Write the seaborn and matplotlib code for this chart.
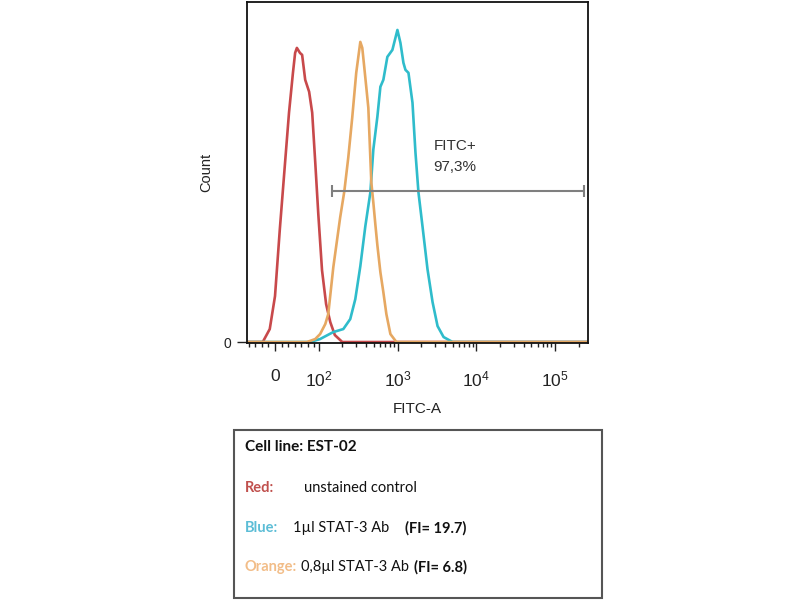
import seaborn as sns
import pandas as pd
import matplotlib.pyplot as plt
from matplotlib.patches import Rectangle

sns.set_style("white")
plt.rcParams['font.family'] = ['Liberation Sans', 'DejaVu Sans']
plt.rcParams['mathtext.default'] = 'regular'

# histogram outlines (FITC-A value, count)
red_x = [-64, -28, -12, 0, 11, 23, 32, 41, 46, 50, 57, 62, 69, 78, 85, 92, 99,
         110, 124, 140, 160, 199, 262143]
red_y = [0, 0, 13, 46, 113, 180, 230, 270, 290, 295, 290, 288, 263, 251, 230, 180, 128,
         72, 38, 20, 7, 0, 0]

orange_x = [-64, 73, 92, 104, 121, 132, 153, 187, 211, 237, 266, 299, 337,
            357, 379, 402, 426, 465, 493, 523, 555, 606, 661, 722, 812, 968, 262143]
orange_y = [0, 0, 3, 8, 18, 28, 75, 125, 151, 185, 225, 270, 301,
            295, 275, 255, 235, 160, 140, 118, 97, 70, 50, 28, 8, 0, 0]

blue_x = [-64, 80, 104, 153, 205, 251, 291, 337, 390, 452, 493, 555, 606, 661,
          743, 861, 997, 1089, 1189, 1261, 1377, 1549, 1690, 1845, 2076, 2403,
          2786, 3223, 3845, 5003, 262143]
blue_y = [0, 0, 3, 10, 13, 23, 43, 76, 116, 150, 193, 226, 256, 263,
          286, 293, 313, 300, 280, 273, 270, 240, 190, 150, 116, 73,
          40, 16, 5, 0, 0]

major_ticks = [0, 100, 1000, 10000, 100000]
major_labels = ['0', '$10^2$', '$10^3$', '$10^4$', '$10^5$']
minor_ticks = [-60, -45, -30, -15, 15, 30, 45, 60, 75, 90,
               200, 300, 400, 500, 600, 700, 800, 900,
               2000, 3000, 4000, 5000, 6000, 7000, 8000, 9000,
               20000, 30000, 40000, 50000, 60000, 70000, 80000, 90000, 200000]

gate_lo, gate_hi, gate_y = 148, 233000, 151
gate_text = ['FITC+', '97,3%']

legend_title = 'Cell line: EST-02'
legend_rows = [('Red:', '#c0504d', 'unstained control', ''),
               ('Blue:', '#5cbdd6', '1µl STAT-3 Ab', '(FI= 19.7)'),
               ('Orange:', '#f2bd88', '0,8µl STAT-3 Ab', '(FI= 6.8)')]

df = pd.concat([
    pd.DataFrame({'FITC-A': red_x, 'Count': red_y, 'sample': 'red'}),
    pd.DataFrame({'FITC-A': blue_x, 'Count': blue_y, 'sample': 'blue'}),
    pd.DataFrame({'FITC-A': orange_x, 'Count': orange_y, 'sample': 'orange'}),
])
palette = {'red': '#c8494b', 'blue': '#2fbccb', 'orange': '#e6a862'}

fig = plt.figure(figsize=(8, 6), dpi=100)
ax = fig.add_axes([0.30875, 0.4283, 0.42625, 0.5683])
ax.set_xscale('symlog', linthresh=100, linscale=0.5)
sns.lineplot(data=df, x='FITC-A', y='Count', hue='sample', hue_order=['red', 'blue', 'orange'],
             palette=palette, estimator=None, sort=False, linewidth=1.9, legend=False, ax=ax)
ax.set_xlim(-64, 262143)
ax.set_ylim(-1, 341)

ax.set_xticks(major_ticks, labels=major_labels)
ax.set_xticks(minor_ticks, minor=True)
ax.set_yticks([0], labels=['0'])
ax.tick_params(axis='x', which='major', direction='out', length=6, width=1, pad=13,
               labelsize=12.5, colors='#222222', bottom=True)
ax.tick_params(axis='x', which='minor', direction='out', length=3, width=1, bottom=True, color='#222222')
ax.tick_params(axis='y', direction='out', length=7, width=1, pad=4, labelsize=10,
               colors='#222222', left=True)
ax.set_xlabel('FITC-A', fontsize=11, color='#222222', labelpad=9)
ax.set_ylabel('Count', fontsize=10.5, color='#222222', labelpad=8)
for s in ax.spines.values():
    s.set_color('#111111')
    s.set_linewidth(1.3)

# gate
ax.hlines(gate_y, gate_lo, gate_hi, color='#7f7f7f', linewidth=1.5)
ax.vlines([gate_lo, gate_hi], gate_y - 6, gate_y + 6, color='#7f7f7f', linewidth=1.5)
ax.text(2866, 197, gate_text[0], fontsize=11, color='#333333', va='center', ha='left')
ax.text(2866, 176, gate_text[1], fontsize=11, color='#333333', va='center', ha='left')

# description box
fig.patches.append(Rectangle((0.2925, 0.0033), 0.46, 0.28, transform=fig.transFigure,
                             fill=False, edgecolor='#555555', linewidth=1.5))
lfont = ['Lato', 'DejaVu Sans']
fs = 10.5
fig.text(0.306, 0.255, legend_title, fontsize=11, fontweight='bold', family=lfont,
         va='center', color='#111111')
row_y = [0.187, 0.12, 0.055]
desc_gap = [30, 15, 4]
fi_gap = [0, 16, 5]
for (name, c, desc, fi), y, dg, fg in zip(legend_rows, row_y, desc_gap, fi_gap):
    n = fig.text(0.306, y, name, fontsize=fs, fontweight='bold', family=lfont, va='center', color=c)
    t = ax.annotate(desc, xy=(1, 0.5), xycoords=n, xytext=(dg, 0), textcoords='offset pixels',
                    fontsize=fs, family=lfont, va='center', ha='left', color='#111111')
    if fi:
        ax.annotate(fi, xy=(1, 0.5), xycoords=t, xytext=(fg, 0), textcoords='offset pixels',
                    fontsize=fs, fontweight='bold', family=lfont, va='center', ha='left',
                    color='#111111')

fig.savefig('out.png', dpi=100)
